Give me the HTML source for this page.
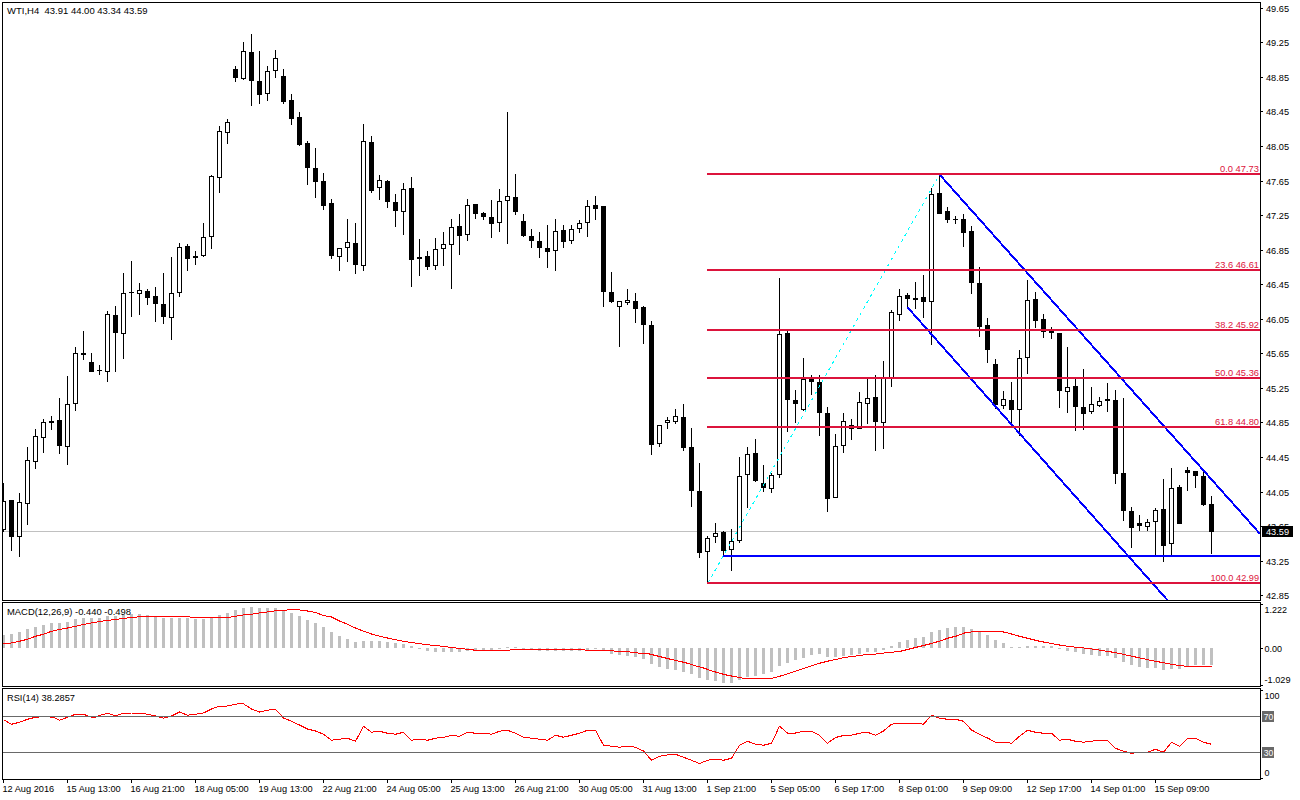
<!DOCTYPE html><html><head><meta charset="utf-8"><title>WTI H4</title><style>html,body{margin:0;padding:0;background:#fff;overflow:hidden}text{font-family:"Liberation Sans",sans-serif}</style></head><body><svg width="1300" height="800" viewBox="0 0 1300 800" style="display:block;font-family:'Liberation Sans',sans-serif">
<rect width="1300" height="800" fill="#fff"/>
<defs><clipPath id="cm"><rect x="3" y="3" width="1257" height="597"/></clipPath><clipPath id="c2"><rect x="3" y="603" width="1257" height="83"/></clipPath><clipPath id="c3"><rect x="3" y="689" width="1257" height="90"/></clipPath></defs>
<rect x="3" y="531" width="1257" height="1" fill="#c0c0c0" shape-rendering="crispEdges"/>
<g clip-path="url(#cm)" shape-rendering="crispEdges">
<rect x="3" y="483" width="1" height="49" fill="#000"/>
<rect x="1" y="501" width="5" height="29" fill="#000"/>
<rect x="2" y="502" width="3" height="27" fill="#fff"/>
<rect x="11" y="500" width="1" height="51" fill="#000"/>
<rect x="9" y="500" width="5" height="37" fill="#000"/>
<rect x="19" y="493" width="1" height="64" fill="#000"/>
<rect x="17" y="502" width="5" height="35" fill="#000"/>
<rect x="18" y="503" width="3" height="33" fill="#fff"/>
<rect x="27" y="447" width="1" height="78" fill="#000"/>
<rect x="25" y="460" width="5" height="44" fill="#000"/>
<rect x="26" y="461" width="3" height="42" fill="#fff"/>
<rect x="35" y="429" width="1" height="40" fill="#000"/>
<rect x="33" y="436" width="5" height="26" fill="#000"/>
<rect x="34" y="437" width="3" height="24" fill="#fff"/>
<rect x="43" y="419" width="1" height="34" fill="#000"/>
<rect x="41" y="422" width="5" height="16" fill="#000"/>
<rect x="42" y="423" width="3" height="14" fill="#fff"/>
<rect x="51" y="416" width="1" height="14" fill="#000"/>
<rect x="49" y="421" width="5" height="2" fill="#000"/>
<rect x="59" y="398" width="1" height="56" fill="#000"/>
<rect x="57" y="420" width="5" height="26" fill="#000"/>
<rect x="67" y="376" width="1" height="89" fill="#000"/>
<rect x="65" y="404" width="5" height="43" fill="#000"/>
<rect x="66" y="405" width="3" height="41" fill="#fff"/>
<rect x="75" y="347" width="1" height="64" fill="#000"/>
<rect x="73" y="353" width="5" height="51" fill="#000"/>
<rect x="74" y="354" width="3" height="49" fill="#fff"/>
<rect x="83" y="331" width="1" height="29" fill="#000"/>
<rect x="81" y="353" width="5" height="2" fill="#000"/>
<rect x="91" y="353" width="1" height="19" fill="#000"/>
<rect x="89" y="362" width="5" height="10" fill="#000"/>
<rect x="99" y="365" width="1" height="10" fill="#000"/>
<rect x="97" y="370" width="5" height="1" fill="#000"/>
<rect x="107" y="311" width="1" height="71" fill="#000"/>
<rect x="105" y="314" width="5" height="58" fill="#000"/>
<rect x="106" y="315" width="3" height="56" fill="#fff"/>
<rect x="115" y="306" width="1" height="66" fill="#000"/>
<rect x="113" y="315" width="5" height="18" fill="#000"/>
<rect x="123" y="273" width="1" height="86" fill="#000"/>
<rect x="121" y="293" width="5" height="41" fill="#000"/>
<rect x="122" y="294" width="3" height="39" fill="#fff"/>
<rect x="131" y="261" width="1" height="56" fill="#000"/>
<rect x="129" y="292" width="5" height="1" fill="#000"/>
<rect x="139" y="283" width="1" height="32" fill="#000"/>
<rect x="137" y="290" width="5" height="4" fill="#000"/>
<rect x="138" y="291" width="3" height="2" fill="#fff"/>
<rect x="147" y="289" width="1" height="16" fill="#000"/>
<rect x="145" y="291" width="5" height="7" fill="#000"/>
<rect x="155" y="287" width="1" height="35" fill="#000"/>
<rect x="153" y="296" width="5" height="8" fill="#000"/>
<rect x="163" y="273" width="1" height="51" fill="#000"/>
<rect x="161" y="304" width="5" height="13" fill="#000"/>
<rect x="171" y="257" width="1" height="83" fill="#000"/>
<rect x="169" y="293" width="5" height="25" fill="#000"/>
<rect x="170" y="294" width="3" height="23" fill="#fff"/>
<rect x="179" y="243" width="1" height="54" fill="#000"/>
<rect x="177" y="247" width="5" height="46" fill="#000"/>
<rect x="178" y="248" width="3" height="44" fill="#fff"/>
<rect x="187" y="244" width="1" height="27" fill="#000"/>
<rect x="185" y="246" width="5" height="13" fill="#000"/>
<rect x="195" y="251" width="1" height="14" fill="#000"/>
<rect x="193" y="256" width="5" height="2" fill="#000"/>
<rect x="203" y="223" width="1" height="34" fill="#000"/>
<rect x="201" y="237" width="5" height="19" fill="#000"/>
<rect x="202" y="238" width="3" height="17" fill="#fff"/>
<rect x="211" y="175" width="1" height="74" fill="#000"/>
<rect x="209" y="176" width="5" height="61" fill="#000"/>
<rect x="210" y="177" width="3" height="59" fill="#fff"/>
<rect x="219" y="126" width="1" height="67" fill="#000"/>
<rect x="217" y="131" width="5" height="47" fill="#000"/>
<rect x="218" y="132" width="3" height="45" fill="#fff"/>
<rect x="227" y="119" width="1" height="25" fill="#000"/>
<rect x="225" y="122" width="5" height="11" fill="#000"/>
<rect x="226" y="123" width="3" height="9" fill="#fff"/>
<rect x="235" y="66" width="1" height="16" fill="#000"/>
<rect x="233" y="69" width="5" height="9" fill="#000"/>
<rect x="243" y="42" width="1" height="38" fill="#000"/>
<rect x="241" y="51" width="5" height="28" fill="#000"/>
<rect x="242" y="52" width="3" height="26" fill="#fff"/>
<rect x="251" y="34" width="1" height="72" fill="#000"/>
<rect x="249" y="52" width="5" height="29" fill="#000"/>
<rect x="259" y="51" width="1" height="53" fill="#000"/>
<rect x="257" y="81" width="5" height="14" fill="#000"/>
<rect x="267" y="66" width="1" height="35" fill="#000"/>
<rect x="265" y="71" width="5" height="23" fill="#000"/>
<rect x="266" y="72" width="3" height="21" fill="#fff"/>
<rect x="275" y="50" width="1" height="28" fill="#000"/>
<rect x="273" y="58" width="5" height="13" fill="#000"/>
<rect x="274" y="59" width="3" height="11" fill="#fff"/>
<rect x="283" y="69" width="1" height="35" fill="#000"/>
<rect x="281" y="76" width="5" height="26" fill="#000"/>
<rect x="291" y="94" width="1" height="31" fill="#000"/>
<rect x="289" y="100" width="5" height="19" fill="#000"/>
<rect x="299" y="112" width="1" height="34" fill="#000"/>
<rect x="297" y="117" width="5" height="28" fill="#000"/>
<rect x="307" y="141" width="1" height="44" fill="#000"/>
<rect x="305" y="143" width="5" height="25" fill="#000"/>
<rect x="315" y="148" width="1" height="50" fill="#000"/>
<rect x="313" y="168" width="5" height="14" fill="#000"/>
<rect x="323" y="173" width="1" height="37" fill="#000"/>
<rect x="321" y="181" width="5" height="25" fill="#000"/>
<rect x="331" y="199" width="1" height="60" fill="#000"/>
<rect x="329" y="203" width="5" height="53" fill="#000"/>
<rect x="339" y="248" width="1" height="23" fill="#000"/>
<rect x="337" y="248" width="5" height="9" fill="#000"/>
<rect x="338" y="249" width="3" height="7" fill="#fff"/>
<rect x="347" y="219" width="1" height="43" fill="#000"/>
<rect x="345" y="242" width="5" height="6" fill="#000"/>
<rect x="346" y="243" width="3" height="4" fill="#fff"/>
<rect x="355" y="223" width="1" height="51" fill="#000"/>
<rect x="353" y="243" width="5" height="22" fill="#000"/>
<rect x="363" y="124" width="1" height="147" fill="#000"/>
<rect x="361" y="141" width="5" height="125" fill="#000"/>
<rect x="362" y="142" width="3" height="123" fill="#fff"/>
<rect x="371" y="136" width="1" height="57" fill="#000"/>
<rect x="369" y="142" width="5" height="49" fill="#000"/>
<rect x="379" y="175" width="1" height="25" fill="#000"/>
<rect x="377" y="180" width="5" height="8" fill="#000"/>
<rect x="378" y="181" width="3" height="6" fill="#fff"/>
<rect x="387" y="180" width="1" height="28" fill="#000"/>
<rect x="385" y="181" width="5" height="21" fill="#000"/>
<rect x="395" y="194" width="1" height="33" fill="#000"/>
<rect x="393" y="202" width="5" height="9" fill="#000"/>
<rect x="403" y="183" width="1" height="52" fill="#000"/>
<rect x="401" y="189" width="5" height="23" fill="#000"/>
<rect x="402" y="190" width="3" height="21" fill="#fff"/>
<rect x="411" y="177" width="1" height="110" fill="#000"/>
<rect x="409" y="188" width="5" height="72" fill="#000"/>
<rect x="419" y="239" width="1" height="37" fill="#000"/>
<rect x="417" y="257" width="5" height="2" fill="#000"/>
<rect x="427" y="251" width="1" height="19" fill="#000"/>
<rect x="425" y="256" width="5" height="11" fill="#000"/>
<rect x="435" y="238" width="1" height="32" fill="#000"/>
<rect x="433" y="249" width="5" height="17" fill="#000"/>
<rect x="434" y="250" width="3" height="15" fill="#fff"/>
<rect x="443" y="232" width="1" height="34" fill="#000"/>
<rect x="441" y="244" width="5" height="5" fill="#000"/>
<rect x="442" y="245" width="3" height="3" fill="#fff"/>
<rect x="451" y="219" width="1" height="70" fill="#000"/>
<rect x="449" y="227" width="5" height="18" fill="#000"/>
<rect x="450" y="228" width="3" height="16" fill="#fff"/>
<rect x="459" y="214" width="1" height="41" fill="#000"/>
<rect x="457" y="226" width="5" height="10" fill="#000"/>
<rect x="467" y="199" width="1" height="42" fill="#000"/>
<rect x="465" y="205" width="5" height="30" fill="#000"/>
<rect x="466" y="206" width="3" height="28" fill="#fff"/>
<rect x="475" y="204" width="1" height="15" fill="#000"/>
<rect x="473" y="204" width="5" height="10" fill="#000"/>
<rect x="483" y="212" width="1" height="8" fill="#000"/>
<rect x="481" y="213" width="5" height="4" fill="#000"/>
<rect x="491" y="200" width="1" height="38" fill="#000"/>
<rect x="489" y="217" width="5" height="7" fill="#000"/>
<rect x="499" y="189" width="1" height="43" fill="#000"/>
<rect x="497" y="201" width="5" height="22" fill="#000"/>
<rect x="498" y="202" width="3" height="20" fill="#fff"/>
<rect x="507" y="112" width="1" height="132" fill="#000"/>
<rect x="505" y="196" width="5" height="5" fill="#000"/>
<rect x="506" y="197" width="3" height="3" fill="#fff"/>
<rect x="515" y="174" width="1" height="41" fill="#000"/>
<rect x="513" y="197" width="5" height="15" fill="#000"/>
<rect x="523" y="214" width="1" height="23" fill="#000"/>
<rect x="521" y="221" width="5" height="15" fill="#000"/>
<rect x="531" y="229" width="1" height="19" fill="#000"/>
<rect x="529" y="236" width="5" height="5" fill="#000"/>
<rect x="539" y="232" width="1" height="26" fill="#000"/>
<rect x="537" y="241" width="5" height="7" fill="#000"/>
<rect x="547" y="225" width="1" height="43" fill="#000"/>
<rect x="545" y="248" width="5" height="4" fill="#000"/>
<rect x="555" y="219" width="1" height="52" fill="#000"/>
<rect x="553" y="231" width="5" height="20" fill="#000"/>
<rect x="554" y="232" width="3" height="18" fill="#fff"/>
<rect x="563" y="225" width="1" height="23" fill="#000"/>
<rect x="561" y="230" width="5" height="12" fill="#000"/>
<rect x="571" y="225" width="1" height="19" fill="#000"/>
<rect x="569" y="229" width="5" height="12" fill="#000"/>
<rect x="570" y="230" width="3" height="10" fill="#fff"/>
<rect x="579" y="220" width="1" height="13" fill="#000"/>
<rect x="577" y="223" width="5" height="6" fill="#000"/>
<rect x="578" y="224" width="3" height="4" fill="#fff"/>
<rect x="587" y="200" width="1" height="37" fill="#000"/>
<rect x="585" y="206" width="5" height="17" fill="#000"/>
<rect x="586" y="207" width="3" height="15" fill="#fff"/>
<rect x="595" y="196" width="1" height="24" fill="#000"/>
<rect x="593" y="205" width="5" height="4" fill="#000"/>
<rect x="603" y="206" width="1" height="101" fill="#000"/>
<rect x="601" y="206" width="5" height="86" fill="#000"/>
<rect x="611" y="272" width="1" height="31" fill="#000"/>
<rect x="609" y="292" width="5" height="10" fill="#000"/>
<rect x="619" y="301" width="1" height="46" fill="#000"/>
<rect x="617" y="301" width="5" height="6" fill="#000"/>
<rect x="618" y="302" width="3" height="4" fill="#fff"/>
<rect x="627" y="289" width="1" height="16" fill="#000"/>
<rect x="625" y="300" width="5" height="3" fill="#000"/>
<rect x="626" y="301" width="3" height="1" fill="#fff"/>
<rect x="635" y="293" width="1" height="30" fill="#000"/>
<rect x="633" y="301" width="5" height="8" fill="#000"/>
<rect x="643" y="306" width="1" height="38" fill="#000"/>
<rect x="641" y="307" width="5" height="18" fill="#000"/>
<rect x="651" y="321" width="1" height="134" fill="#000"/>
<rect x="649" y="325" width="5" height="120" fill="#000"/>
<rect x="659" y="425" width="1" height="22" fill="#000"/>
<rect x="657" y="425" width="5" height="19" fill="#000"/>
<rect x="658" y="426" width="3" height="17" fill="#fff"/>
<rect x="667" y="417" width="1" height="12" fill="#000"/>
<rect x="665" y="420" width="5" height="3" fill="#000"/>
<rect x="666" y="421" width="3" height="1" fill="#fff"/>
<rect x="675" y="409" width="1" height="15" fill="#000"/>
<rect x="673" y="416" width="5" height="6" fill="#000"/>
<rect x="674" y="417" width="3" height="4" fill="#fff"/>
<rect x="683" y="404" width="1" height="47" fill="#000"/>
<rect x="681" y="417" width="5" height="31" fill="#000"/>
<rect x="691" y="428" width="1" height="79" fill="#000"/>
<rect x="689" y="447" width="5" height="44" fill="#000"/>
<rect x="699" y="463" width="1" height="95" fill="#000"/>
<rect x="697" y="491" width="5" height="62" fill="#000"/>
<rect x="707" y="536" width="1" height="47" fill="#000"/>
<rect x="705" y="538" width="5" height="14" fill="#000"/>
<rect x="706" y="539" width="3" height="12" fill="#fff"/>
<rect x="715" y="523" width="1" height="20" fill="#000"/>
<rect x="713" y="533" width="5" height="4" fill="#000"/>
<rect x="714" y="534" width="3" height="2" fill="#fff"/>
<rect x="723" y="531" width="1" height="25" fill="#000"/>
<rect x="721" y="532" width="5" height="19" fill="#000"/>
<rect x="731" y="529" width="1" height="42" fill="#000"/>
<rect x="729" y="541" width="5" height="9" fill="#000"/>
<rect x="730" y="542" width="3" height="7" fill="#fff"/>
<rect x="739" y="457" width="1" height="86" fill="#000"/>
<rect x="737" y="476" width="5" height="65" fill="#000"/>
<rect x="738" y="477" width="3" height="63" fill="#fff"/>
<rect x="747" y="447" width="1" height="61" fill="#000"/>
<rect x="745" y="454" width="5" height="21" fill="#000"/>
<rect x="746" y="455" width="3" height="19" fill="#fff"/>
<rect x="755" y="439" width="1" height="43" fill="#000"/>
<rect x="753" y="453" width="5" height="28" fill="#000"/>
<rect x="763" y="465" width="1" height="27" fill="#000"/>
<rect x="761" y="483" width="5" height="5" fill="#000"/>
<rect x="771" y="473" width="1" height="20" fill="#000"/>
<rect x="769" y="475" width="5" height="14" fill="#000"/>
<rect x="770" y="476" width="3" height="12" fill="#fff"/>
<rect x="779" y="278" width="1" height="200" fill="#000"/>
<rect x="777" y="334" width="5" height="141" fill="#000"/>
<rect x="778" y="335" width="3" height="139" fill="#fff"/>
<rect x="787" y="330" width="1" height="102" fill="#000"/>
<rect x="785" y="333" width="5" height="67" fill="#000"/>
<rect x="795" y="390" width="1" height="33" fill="#000"/>
<rect x="793" y="400" width="5" height="4" fill="#000"/>
<rect x="803" y="358" width="1" height="53" fill="#000"/>
<rect x="801" y="379" width="5" height="31" fill="#000"/>
<rect x="802" y="380" width="3" height="29" fill="#fff"/>
<rect x="811" y="375" width="1" height="20" fill="#000"/>
<rect x="809" y="379" width="5" height="3" fill="#000"/>
<rect x="819" y="375" width="1" height="61" fill="#000"/>
<rect x="817" y="382" width="5" height="31" fill="#000"/>
<rect x="827" y="407" width="1" height="105" fill="#000"/>
<rect x="825" y="413" width="5" height="86" fill="#000"/>
<rect x="835" y="434" width="1" height="64" fill="#000"/>
<rect x="833" y="446" width="5" height="52" fill="#000"/>
<rect x="834" y="447" width="3" height="50" fill="#fff"/>
<rect x="843" y="413" width="1" height="40" fill="#000"/>
<rect x="841" y="421" width="5" height="25" fill="#000"/>
<rect x="842" y="422" width="3" height="23" fill="#fff"/>
<rect x="851" y="419" width="1" height="21" fill="#000"/>
<rect x="849" y="425" width="5" height="4" fill="#000"/>
<rect x="859" y="392" width="1" height="37" fill="#000"/>
<rect x="857" y="402" width="5" height="27" fill="#000"/>
<rect x="858" y="403" width="3" height="25" fill="#fff"/>
<rect x="867" y="379" width="1" height="45" fill="#000"/>
<rect x="865" y="398" width="5" height="6" fill="#000"/>
<rect x="866" y="399" width="3" height="4" fill="#fff"/>
<rect x="875" y="375" width="1" height="76" fill="#000"/>
<rect x="873" y="397" width="5" height="25" fill="#000"/>
<rect x="883" y="361" width="1" height="88" fill="#000"/>
<rect x="881" y="378" width="5" height="45" fill="#000"/>
<rect x="882" y="379" width="3" height="43" fill="#fff"/>
<rect x="891" y="310" width="1" height="77" fill="#000"/>
<rect x="889" y="312" width="5" height="66" fill="#000"/>
<rect x="890" y="313" width="3" height="64" fill="#fff"/>
<rect x="899" y="289" width="1" height="32" fill="#000"/>
<rect x="897" y="296" width="5" height="19" fill="#000"/>
<rect x="898" y="297" width="3" height="17" fill="#fff"/>
<rect x="907" y="293" width="1" height="14" fill="#000"/>
<rect x="905" y="295" width="5" height="4" fill="#000"/>
<rect x="915" y="282" width="1" height="27" fill="#000"/>
<rect x="913" y="298" width="5" height="2" fill="#000"/>
<rect x="923" y="275" width="1" height="43" fill="#000"/>
<rect x="921" y="297" width="5" height="5" fill="#000"/>
<rect x="931" y="188" width="1" height="157" fill="#000"/>
<rect x="929" y="194" width="5" height="108" fill="#000"/>
<rect x="930" y="195" width="3" height="106" fill="#fff"/>
<rect x="939" y="174" width="1" height="40" fill="#000"/>
<rect x="937" y="193" width="5" height="21" fill="#000"/>
<rect x="947" y="207" width="1" height="16" fill="#000"/>
<rect x="945" y="211" width="5" height="9" fill="#000"/>
<rect x="955" y="216" width="1" height="8" fill="#000"/>
<rect x="953" y="219" width="5" height="1" fill="#000"/>
<rect x="963" y="214" width="1" height="33" fill="#000"/>
<rect x="961" y="219" width="5" height="14" fill="#000"/>
<rect x="971" y="226" width="1" height="68" fill="#000"/>
<rect x="969" y="231" width="5" height="52" fill="#000"/>
<rect x="979" y="267" width="1" height="70" fill="#000"/>
<rect x="977" y="283" width="5" height="44" fill="#000"/>
<rect x="987" y="318" width="1" height="45" fill="#000"/>
<rect x="985" y="325" width="5" height="25" fill="#000"/>
<rect x="995" y="359" width="1" height="50" fill="#000"/>
<rect x="993" y="364" width="5" height="41" fill="#000"/>
<rect x="1003" y="391" width="1" height="18" fill="#000"/>
<rect x="1001" y="399" width="5" height="7" fill="#000"/>
<rect x="1002" y="400" width="3" height="5" fill="#fff"/>
<rect x="1011" y="382" width="1" height="41" fill="#000"/>
<rect x="1009" y="400" width="5" height="10" fill="#000"/>
<rect x="1019" y="350" width="1" height="86" fill="#000"/>
<rect x="1017" y="358" width="5" height="52" fill="#000"/>
<rect x="1018" y="359" width="3" height="50" fill="#fff"/>
<rect x="1027" y="280" width="1" height="94" fill="#000"/>
<rect x="1025" y="300" width="5" height="58" fill="#000"/>
<rect x="1026" y="301" width="3" height="56" fill="#fff"/>
<rect x="1035" y="292" width="1" height="36" fill="#000"/>
<rect x="1033" y="299" width="5" height="22" fill="#000"/>
<rect x="1043" y="314" width="1" height="24" fill="#000"/>
<rect x="1041" y="319" width="5" height="13" fill="#000"/>
<rect x="1051" y="327" width="1" height="12" fill="#000"/>
<rect x="1049" y="331" width="5" height="2" fill="#000"/>
<rect x="1059" y="333" width="1" height="75" fill="#000"/>
<rect x="1057" y="333" width="5" height="58" fill="#000"/>
<rect x="1067" y="347" width="1" height="66" fill="#000"/>
<rect x="1065" y="387" width="5" height="5" fill="#000"/>
<rect x="1066" y="388" width="3" height="3" fill="#fff"/>
<rect x="1075" y="379" width="1" height="52" fill="#000"/>
<rect x="1073" y="386" width="5" height="21" fill="#000"/>
<rect x="1083" y="369" width="1" height="61" fill="#000"/>
<rect x="1081" y="407" width="5" height="7" fill="#000"/>
<rect x="1091" y="387" width="1" height="27" fill="#000"/>
<rect x="1089" y="404" width="5" height="8" fill="#000"/>
<rect x="1090" y="405" width="3" height="6" fill="#fff"/>
<rect x="1099" y="397" width="1" height="10" fill="#000"/>
<rect x="1097" y="401" width="5" height="5" fill="#000"/>
<rect x="1098" y="402" width="3" height="3" fill="#fff"/>
<rect x="1107" y="383" width="1" height="29" fill="#000"/>
<rect x="1105" y="399" width="5" height="2" fill="#000"/>
<rect x="1115" y="390" width="1" height="94" fill="#000"/>
<rect x="1113" y="400" width="5" height="74" fill="#000"/>
<rect x="1123" y="398" width="1" height="123" fill="#000"/>
<rect x="1121" y="473" width="5" height="38" fill="#000"/>
<rect x="1131" y="507" width="1" height="41" fill="#000"/>
<rect x="1129" y="511" width="5" height="17" fill="#000"/>
<rect x="1139" y="515" width="1" height="16" fill="#000"/>
<rect x="1137" y="523" width="5" height="3" fill="#000"/>
<rect x="1147" y="519" width="1" height="12" fill="#000"/>
<rect x="1145" y="522" width="5" height="5" fill="#000"/>
<rect x="1146" y="523" width="3" height="3" fill="#fff"/>
<rect x="1155" y="508" width="1" height="47" fill="#000"/>
<rect x="1153" y="510" width="5" height="12" fill="#000"/>
<rect x="1154" y="511" width="3" height="10" fill="#fff"/>
<rect x="1163" y="479" width="1" height="83" fill="#000"/>
<rect x="1161" y="509" width="5" height="37" fill="#000"/>
<rect x="1171" y="468" width="1" height="87" fill="#000"/>
<rect x="1169" y="488" width="5" height="56" fill="#000"/>
<rect x="1170" y="489" width="3" height="54" fill="#fff"/>
<rect x="1179" y="485" width="1" height="39" fill="#000"/>
<rect x="1177" y="487" width="5" height="37" fill="#000"/>
<rect x="1187" y="467" width="1" height="24" fill="#000"/>
<rect x="1185" y="470" width="5" height="3" fill="#000"/>
<rect x="1195" y="471" width="1" height="17" fill="#000"/>
<rect x="1193" y="471" width="5" height="5" fill="#000"/>
<rect x="1203" y="471" width="1" height="35" fill="#000"/>
<rect x="1201" y="476" width="5" height="29" fill="#000"/>
<rect x="1211" y="496" width="1" height="58" fill="#000"/>
<rect x="1209" y="504" width="5" height="28" fill="#000"/>
</g>
<g clip-path="url(#cm)">
<line x1="707.9" y1="583" x2="939.3" y2="175" stroke="#00ffff" stroke-width="1" stroke-dasharray="3 4" shape-rendering="crispEdges"/>
<rect x="723" y="555" width="537" height="2" fill="#0000ff" shape-rendering="crispEdges"/>
<line x1="939.5" y1="174.5" x2="1260" y2="533.8" stroke="#0000ff" stroke-width="2" shape-rendering="crispEdges"/>
<line x1="907.5" y1="307.3" x2="1185.1" y2="620" stroke="#0000ff" stroke-width="2" shape-rendering="crispEdges"/>
<rect x="707" y="173" width="553" height="2" fill="#dc143c" shape-rendering="crispEdges"/>
<rect x="707" y="269" width="553" height="2" fill="#dc143c" shape-rendering="crispEdges"/>
<rect x="707" y="329" width="553" height="2" fill="#dc143c" shape-rendering="crispEdges"/>
<rect x="707" y="377" width="553" height="2" fill="#dc143c" shape-rendering="crispEdges"/>
<rect x="707" y="426" width="553" height="2" fill="#dc143c" shape-rendering="crispEdges"/>
<rect x="707" y="582" width="553" height="2" fill="#dc143c" shape-rendering="crispEdges"/>
</g>
<text x="1259" y="172.3" font-size="9.6" fill="#dc143c" textLength="39" lengthAdjust="spacingAndGlyphs" text-anchor="end" xml:space="preserve">0.0 47.73</text>
<text x="1259" y="268.3" font-size="9.6" fill="#dc143c" textLength="44" lengthAdjust="spacingAndGlyphs" text-anchor="end" xml:space="preserve">23.6 46.61</text>
<text x="1259" y="328.3" font-size="9.6" fill="#dc143c" textLength="44" lengthAdjust="spacingAndGlyphs" text-anchor="end" xml:space="preserve">38.2 45.92</text>
<text x="1259" y="376.3" font-size="9.6" fill="#dc143c" textLength="44" lengthAdjust="spacingAndGlyphs" text-anchor="end" xml:space="preserve">50.0 45.36</text>
<text x="1259" y="425.3" font-size="9.6" fill="#dc143c" textLength="44" lengthAdjust="spacingAndGlyphs" text-anchor="end" xml:space="preserve">61.8 44.80</text>
<text x="1259" y="581.3" font-size="9.6" fill="#dc143c" textLength="48.5" lengthAdjust="spacingAndGlyphs" text-anchor="end" xml:space="preserve">100.0 42.99</text>
<g clip-path="url(#c2)" shape-rendering="crispEdges">
<rect x="2" y="635" width="3" height="13" fill="#c0c0c0"/>
<rect x="10" y="634" width="3" height="14" fill="#c0c0c0"/>
<rect x="18" y="632" width="3" height="16" fill="#c0c0c0"/>
<rect x="26" y="629" width="3" height="19" fill="#c0c0c0"/>
<rect x="34" y="627" width="3" height="21" fill="#c0c0c0"/>
<rect x="42" y="625" width="3" height="23" fill="#c0c0c0"/>
<rect x="50" y="623" width="3" height="25" fill="#c0c0c0"/>
<rect x="58" y="623" width="3" height="25" fill="#c0c0c0"/>
<rect x="66" y="622" width="3" height="26" fill="#c0c0c0"/>
<rect x="74" y="619" width="3" height="29" fill="#c0c0c0"/>
<rect x="82" y="618" width="3" height="30" fill="#c0c0c0"/>
<rect x="90" y="618" width="3" height="30" fill="#c0c0c0"/>
<rect x="98" y="618" width="3" height="30" fill="#c0c0c0"/>
<rect x="106" y="616" width="3" height="32" fill="#c0c0c0"/>
<rect x="114" y="616" width="3" height="32" fill="#c0c0c0"/>
<rect x="122" y="615" width="3" height="33" fill="#c0c0c0"/>
<rect x="130" y="614" width="3" height="34" fill="#c0c0c0"/>
<rect x="138" y="614" width="3" height="34" fill="#c0c0c0"/>
<rect x="146" y="615" width="3" height="33" fill="#c0c0c0"/>
<rect x="154" y="616" width="3" height="32" fill="#c0c0c0"/>
<rect x="162" y="618" width="3" height="30" fill="#c0c0c0"/>
<rect x="170" y="618" width="3" height="30" fill="#c0c0c0"/>
<rect x="178" y="618" width="3" height="30" fill="#c0c0c0"/>
<rect x="186" y="618" width="3" height="30" fill="#c0c0c0"/>
<rect x="194" y="619" width="3" height="29" fill="#c0c0c0"/>
<rect x="202" y="619" width="3" height="29" fill="#c0c0c0"/>
<rect x="210" y="617" width="3" height="31" fill="#c0c0c0"/>
<rect x="218" y="615" width="3" height="33" fill="#c0c0c0"/>
<rect x="226" y="613" width="3" height="35" fill="#c0c0c0"/>
<rect x="234" y="610" width="3" height="38" fill="#c0c0c0"/>
<rect x="242" y="608" width="3" height="40" fill="#c0c0c0"/>
<rect x="250" y="607" width="3" height="41" fill="#c0c0c0"/>
<rect x="258" y="608" width="3" height="40" fill="#c0c0c0"/>
<rect x="266" y="608" width="3" height="40" fill="#c0c0c0"/>
<rect x="274" y="608" width="3" height="40" fill="#c0c0c0"/>
<rect x="282" y="610" width="3" height="38" fill="#c0c0c0"/>
<rect x="290" y="613" width="3" height="35" fill="#c0c0c0"/>
<rect x="298" y="616" width="3" height="32" fill="#c0c0c0"/>
<rect x="306" y="620" width="3" height="28" fill="#c0c0c0"/>
<rect x="314" y="623" width="3" height="25" fill="#c0c0c0"/>
<rect x="322" y="627" width="3" height="21" fill="#c0c0c0"/>
<rect x="330" y="632" width="3" height="16" fill="#c0c0c0"/>
<rect x="338" y="636" width="3" height="12" fill="#c0c0c0"/>
<rect x="346" y="639" width="3" height="9" fill="#c0c0c0"/>
<rect x="354" y="642" width="3" height="6" fill="#c0c0c0"/>
<rect x="362" y="641" width="3" height="7" fill="#c0c0c0"/>
<rect x="370" y="641" width="3" height="7" fill="#c0c0c0"/>
<rect x="378" y="641" width="3" height="7" fill="#c0c0c0"/>
<rect x="386" y="642" width="3" height="6" fill="#c0c0c0"/>
<rect x="394" y="643" width="3" height="5" fill="#c0c0c0"/>
<rect x="402" y="644" width="3" height="4" fill="#c0c0c0"/>
<rect x="410" y="646" width="3" height="2" fill="#c0c0c0"/>
<rect x="418" y="648" width="3" height="1" fill="#c0c0c0"/>
<rect x="426" y="648" width="3" height="3" fill="#c0c0c0"/>
<rect x="434" y="648" width="3" height="4" fill="#c0c0c0"/>
<rect x="442" y="648" width="3" height="4" fill="#c0c0c0"/>
<rect x="450" y="648" width="3" height="4" fill="#c0c0c0"/>
<rect x="458" y="648" width="3" height="4" fill="#c0c0c0"/>
<rect x="466" y="648" width="3" height="3" fill="#c0c0c0"/>
<rect x="474" y="648" width="3" height="2" fill="#c0c0c0"/>
<rect x="482" y="648" width="3" height="2" fill="#c0c0c0"/>
<rect x="490" y="648" width="3" height="2" fill="#c0c0c0"/>
<rect x="498" y="648" width="3" height="1" fill="#c0c0c0"/>
<rect x="506" y="647" width="3" height="1" fill="#c0c0c0"/>
<rect x="514" y="647" width="3" height="1" fill="#c0c0c0"/>
<rect x="522" y="648" width="3" height="2" fill="#c0c0c0"/>
<rect x="530" y="648" width="3" height="2" fill="#c0c0c0"/>
<rect x="538" y="648" width="3" height="3" fill="#c0c0c0"/>
<rect x="546" y="648" width="3" height="3" fill="#c0c0c0"/>
<rect x="554" y="648" width="3" height="3" fill="#c0c0c0"/>
<rect x="562" y="648" width="3" height="3" fill="#c0c0c0"/>
<rect x="570" y="648" width="3" height="3" fill="#c0c0c0"/>
<rect x="578" y="648" width="3" height="3" fill="#c0c0c0"/>
<rect x="586" y="648" width="3" height="2" fill="#c0c0c0"/>
<rect x="594" y="648" width="3" height="1" fill="#c0c0c0"/>
<rect x="602" y="648" width="3" height="2" fill="#c0c0c0"/>
<rect x="610" y="648" width="3" height="6" fill="#c0c0c0"/>
<rect x="618" y="648" width="3" height="7" fill="#c0c0c0"/>
<rect x="626" y="648" width="3" height="8" fill="#c0c0c0"/>
<rect x="634" y="648" width="3" height="9" fill="#c0c0c0"/>
<rect x="642" y="648" width="3" height="11" fill="#c0c0c0"/>
<rect x="650" y="648" width="3" height="16" fill="#c0c0c0"/>
<rect x="658" y="648" width="3" height="19" fill="#c0c0c0"/>
<rect x="666" y="648" width="3" height="21" fill="#c0c0c0"/>
<rect x="674" y="648" width="3" height="22" fill="#c0c0c0"/>
<rect x="682" y="648" width="3" height="24" fill="#c0c0c0"/>
<rect x="690" y="648" width="3" height="26" fill="#c0c0c0"/>
<rect x="698" y="648" width="3" height="30" fill="#c0c0c0"/>
<rect x="706" y="648" width="3" height="32" fill="#c0c0c0"/>
<rect x="714" y="648" width="3" height="33" fill="#c0c0c0"/>
<rect x="722" y="648" width="3" height="35" fill="#c0c0c0"/>
<rect x="730" y="648" width="3" height="35" fill="#c0c0c0"/>
<rect x="738" y="648" width="3" height="32" fill="#c0c0c0"/>
<rect x="746" y="648" width="3" height="29" fill="#c0c0c0"/>
<rect x="754" y="648" width="3" height="28" fill="#c0c0c0"/>
<rect x="762" y="648" width="3" height="26" fill="#c0c0c0"/>
<rect x="770" y="648" width="3" height="24" fill="#c0c0c0"/>
<rect x="778" y="648" width="3" height="18" fill="#c0c0c0"/>
<rect x="786" y="648" width="3" height="15" fill="#c0c0c0"/>
<rect x="794" y="648" width="3" height="12" fill="#c0c0c0"/>
<rect x="802" y="648" width="3" height="10" fill="#c0c0c0"/>
<rect x="810" y="648" width="3" height="7" fill="#c0c0c0"/>
<rect x="818" y="648" width="3" height="6" fill="#c0c0c0"/>
<rect x="826" y="648" width="3" height="9" fill="#c0c0c0"/>
<rect x="834" y="648" width="3" height="9" fill="#c0c0c0"/>
<rect x="842" y="648" width="3" height="8" fill="#c0c0c0"/>
<rect x="850" y="648" width="3" height="7" fill="#c0c0c0"/>
<rect x="858" y="648" width="3" height="6" fill="#c0c0c0"/>
<rect x="866" y="648" width="3" height="4" fill="#c0c0c0"/>
<rect x="874" y="648" width="3" height="4" fill="#c0c0c0"/>
<rect x="882" y="648" width="3" height="2" fill="#c0c0c0"/>
<rect x="890" y="646" width="3" height="2" fill="#c0c0c0"/>
<rect x="898" y="642" width="3" height="6" fill="#c0c0c0"/>
<rect x="906" y="640" width="3" height="8" fill="#c0c0c0"/>
<rect x="914" y="638" width="3" height="10" fill="#c0c0c0"/>
<rect x="922" y="637" width="3" height="11" fill="#c0c0c0"/>
<rect x="930" y="632" width="3" height="16" fill="#c0c0c0"/>
<rect x="938" y="630" width="3" height="18" fill="#c0c0c0"/>
<rect x="946" y="628" width="3" height="20" fill="#c0c0c0"/>
<rect x="954" y="627" width="3" height="21" fill="#c0c0c0"/>
<rect x="962" y="627" width="3" height="21" fill="#c0c0c0"/>
<rect x="970" y="629" width="3" height="19" fill="#c0c0c0"/>
<rect x="978" y="631" width="3" height="17" fill="#c0c0c0"/>
<rect x="986" y="635" width="3" height="13" fill="#c0c0c0"/>
<rect x="994" y="640" width="3" height="8" fill="#c0c0c0"/>
<rect x="1002" y="643" width="3" height="5" fill="#c0c0c0"/>
<rect x="1010" y="647" width="3" height="1" fill="#c0c0c0"/>
<rect x="1018" y="647" width="3" height="1" fill="#c0c0c0"/>
<rect x="1026" y="646" width="3" height="2" fill="#c0c0c0"/>
<rect x="1034" y="646" width="3" height="2" fill="#c0c0c0"/>
<rect x="1042" y="646" width="3" height="2" fill="#c0c0c0"/>
<rect x="1050" y="646" width="3" height="2" fill="#c0c0c0"/>
<rect x="1058" y="648" width="3" height="1" fill="#c0c0c0"/>
<rect x="1066" y="648" width="3" height="3" fill="#c0c0c0"/>
<rect x="1074" y="648" width="3" height="4" fill="#c0c0c0"/>
<rect x="1082" y="648" width="3" height="6" fill="#c0c0c0"/>
<rect x="1090" y="648" width="3" height="7" fill="#c0c0c0"/>
<rect x="1098" y="648" width="3" height="8" fill="#c0c0c0"/>
<rect x="1106" y="648" width="3" height="8" fill="#c0c0c0"/>
<rect x="1114" y="648" width="3" height="10" fill="#c0c0c0"/>
<rect x="1122" y="648" width="3" height="14" fill="#c0c0c0"/>
<rect x="1130" y="648" width="3" height="17" fill="#c0c0c0"/>
<rect x="1138" y="648" width="3" height="19" fill="#c0c0c0"/>
<rect x="1146" y="648" width="3" height="20" fill="#c0c0c0"/>
<rect x="1154" y="648" width="3" height="20" fill="#c0c0c0"/>
<rect x="1162" y="648" width="3" height="22" fill="#c0c0c0"/>
<rect x="1170" y="648" width="3" height="21" fill="#c0c0c0"/>
<rect x="1178" y="648" width="3" height="21" fill="#c0c0c0"/>
<rect x="1186" y="648" width="3" height="18" fill="#c0c0c0"/>
<rect x="1194" y="648" width="3" height="17" fill="#c0c0c0"/>
<rect x="1202" y="648" width="3" height="17" fill="#c0c0c0"/>
<rect x="1210" y="648" width="3" height="17" fill="#c0c0c0"/>
</g>
<polyline points="3.5,644 11.5,643 19.5,641.25 27.5,639.25 35.5,636.25 43.5,634.25 51.5,631.25 59.5,629.5 67.5,628 75.5,626.25 83.5,624.5 91.5,623 99.5,621.5 107.5,620.5 115.5,619.5 123.5,618.5 131.5,617.5 139.5,616.75 147.5,616.5 155.5,616.5 163.5,616.5 171.5,616.5 179.5,616.5 187.5,616.75 195.5,617.5 203.5,617.5 211.5,617.5 219.5,617.5 227.5,617.5 235.5,616.25 243.5,615 251.5,614.25 259.5,613 267.5,612 275.5,610.75 283.5,610.5 291.5,609.5 299.5,610 307.5,611 315.5,612.5 323.5,615.5 331.5,617 339.5,621 347.5,624.25 355.5,628 363.5,631.25 371.5,634 379.5,636.25 387.5,638 395.5,639.75 403.5,641.25 411.5,642.5 419.5,643.75 427.5,644.75 435.5,645.5 443.5,646.5 451.5,647.5 459.5,648.5 467.5,649.25 475.5,650.25 483.5,650.25 491.5,650.25 499.5,650.25 507.5,650.25 515.5,649.5 523.5,649.5 531.5,649.5 539.5,649.5 547.5,649.5 555.5,649.5 563.5,649.5 571.5,649.5 579.5,649.5 587.5,650.25 595.5,650.25 603.5,650.25 611.5,650.75 619.5,651.5 627.5,651.75 635.5,652.75 643.5,653.5 647.5,653.5 655.5,655.5 663.5,657.5 671.5,659.5 679.5,661.25 687.5,663.25 695.5,665.75 703.5,668 711.5,670.75 719.5,673.25 727.5,675.25 735.5,676.75 743.5,678.25 751.5,678.5 759.5,678.5 767.5,678.5 772.5,678.25 780.5,676 788.5,673.5 796.5,670.75 804.5,668.25 812.5,665.5 820.5,663 828.5,661 836.5,659.25 844.5,657.5 852.5,656.5 860.5,655.25 868.5,654.5 876.5,654 884.5,653 892.5,652.25 900.5,651.25 908.5,649.25 916.5,647.25 924.5,645.25 932.5,643.25 940.5,640.75 948.5,638 956.5,636 964.5,633 967.5,632.5 975.5,631.5 983.5,631.25 991.5,631.25 999.5,631.25 1007.5,632.75 1015.5,635.25 1023.5,637.25 1031.5,639.25 1039.5,641.25 1047.5,642.75 1055.5,644.25 1063.5,645.75 1071.5,646.75 1079.5,647.5 1087.5,648.5 1095.5,649.5 1103.5,650.75 1111.5,652 1119.5,653.5 1127.5,655.25 1135.5,657 1143.5,658.75 1151.5,660.5 1159.5,662 1167.5,663.5 1175.5,665 1183.5,666 1191.5,666.25 1199.5,666.25 1211.5,666.25" fill="none" stroke="#ff0000" stroke-width="1" shape-rendering="crispEdges" clip-path="url(#c2)"/>
<polyline points="3.5,719.75 11.5,724.25 19.5,722.25 27.5,719.25 35.5,717.25 39.5,717 45.5,716.75 53.5,717.25 59.5,720.25 67.5,717.25 75.5,714.25 83.5,714.25 91.5,717.25 95,717.25 99.5,715.5 107.5,713.25 115.5,716 123.5,713.25 131.5,713 139.5,713 147.5,714.25 155.5,716 163.5,718.25 171.5,716 179.5,712 187.5,715.25 195.5,714.25 203.5,713 211.5,709 219.5,706.25 227.5,706 235.5,704.25 242.5,703.25 251.5,709 259.5,712 267.5,710.25 275.5,709.25 283.5,718 291.5,721.25 299.5,725 307.5,729 315.5,731 323.5,734.25 331.5,740.25 339.5,739.25 347.5,738.25 355.5,741.25 363.5,726.25 371.5,732.25 379.5,731.25 387.5,733.25 395.5,734.25 403.5,732.25 411.5,740.25 419.5,739.25 427.5,740.25 435.5,738.25 443.5,737.25 451.5,735.5 459.5,736.25 467.5,732.25 475.5,733.25 483.5,733.25 491.5,734.25 499.5,731.25 507.5,730.25 515.5,733.25 523.5,737.25 531.5,738.25 539.5,739.25 547.5,740.25 555.5,735.25 563.5,737.25 571.5,735.25 579.5,733.25 587.5,730.25 595.5,730.25 603.5,745.25 611.5,746.25 619.5,747.25 627.5,746.25 635.5,747.25 643.5,751 651.5,760.25 659.5,756.25 667.5,755 675.5,754.25 683.5,757.25 691.5,760.25 699.5,763.5 707.5,760.25 715.5,759.25 723.5,760.25 731.5,758.25 739.5,745.25 747.5,741.25 755.5,744.25 763.5,745.25 771.5,743.25 779.5,726.25 787.5,733 795.5,733 803.5,731.25 811.5,731.25 819.5,735.25 827.5,743.25 835.5,737.5 843.5,735.5 851.5,735.25 859.5,733.25 867.5,732.25 875.5,735.25 883.5,731 891.5,724.25 899.5,723.25 907.5,723.25 915.5,723.25 923.5,724.25 931.5,715.25 939.5,718.25 947.5,719.25 955.5,719.25 963.5,721.25 971.5,730 979.5,734.25 987.5,738 995.5,742.25 1003.5,742.25 1011.5,743.25 1019.5,736.25 1027.5,730.25 1035.5,732.25 1043.5,733.25 1051.5,733.25 1059.5,740.25 1067.5,739.25 1075.5,741.25 1083.5,742.25 1091.5,741.25 1099.5,740.25 1107.5,740.25 1115.5,748.25 1123.5,751.25 1131.5,753.25 1139.5,752.5 1147.5,752.25 1155.5,749.25 1163.5,752.25 1171.5,742.25 1179.5,746.25 1187.5,738.25 1195.5,738.25 1203.5,742.25 1211.5,744.25" fill="none" stroke="#ff0000" stroke-width="1" shape-rendering="crispEdges" clip-path="url(#c3)"/>
<g shape-rendering="crispEdges">
<rect x="3" y="716" width="1257" height="1" fill="#696969"/>
<rect x="3" y="752" width="1257" height="1" fill="#696969"/>
</g>
<g fill="#000" shape-rendering="crispEdges">
<rect x="2" y="2" width="1259" height="1"/>
<rect x="2" y="2" width="1" height="599"/>
<rect x="2" y="600" width="1259" height="1"/>
<rect x="2" y="602" width="1259" height="1"/>
<rect x="2" y="602" width="1" height="85"/>
<rect x="2" y="686" width="1259" height="1"/>
<rect x="2" y="688" width="1259" height="1"/>
<rect x="2" y="688" width="1" height="92"/>
<rect x="2" y="779" width="1259" height="1"/>
<rect x="1260" y="2" width="1" height="599"/>
<rect x="1260" y="602" width="1" height="85"/>
<rect x="1260" y="688" width="1" height="92"/>
<rect x="1261" y="8" width="2" height="1"/>
<rect x="1261" y="42" width="2" height="1"/>
<rect x="1261" y="77" width="2" height="1"/>
<rect x="1261" y="111" width="2" height="1"/>
<rect x="1261" y="146" width="2" height="1"/>
<rect x="1261" y="181" width="2" height="1"/>
<rect x="1261" y="215" width="2" height="1"/>
<rect x="1261" y="250" width="2" height="1"/>
<rect x="1261" y="284" width="2" height="1"/>
<rect x="1261" y="319" width="2" height="1"/>
<rect x="1261" y="353" width="2" height="1"/>
<rect x="1261" y="388" width="2" height="1"/>
<rect x="1261" y="422" width="2" height="1"/>
<rect x="1261" y="457" width="2" height="1"/>
<rect x="1261" y="492" width="2" height="1"/>
<rect x="1261" y="526" width="2" height="1"/>
<rect x="1261" y="561" width="2" height="1"/>
<rect x="1261" y="595" width="2" height="1"/>
<rect x="1261" y="604" width="2" height="1"/>
<rect x="1261" y="648" width="2" height="1"/>
<rect x="1261" y="685" width="2" height="1"/>
<rect x="1261" y="690" width="2" height="1"/>
<rect x="1261" y="778" width="2" height="1"/>
<rect x="3" y="780" width="1" height="3"/>
<rect x="67" y="780" width="1" height="3"/>
<rect x="131" y="780" width="1" height="3"/>
<rect x="195" y="780" width="1" height="3"/>
<rect x="259" y="780" width="1" height="3"/>
<rect x="323" y="780" width="1" height="3"/>
<rect x="387" y="780" width="1" height="3"/>
<rect x="451" y="780" width="1" height="3"/>
<rect x="515" y="780" width="1" height="3"/>
<rect x="579" y="780" width="1" height="3"/>
<rect x="643" y="780" width="1" height="3"/>
<rect x="707" y="780" width="1" height="3"/>
<rect x="771" y="780" width="1" height="3"/>
<rect x="835" y="780" width="1" height="3"/>
<rect x="899" y="780" width="1" height="3"/>
<rect x="963" y="780" width="1" height="3"/>
<rect x="1027" y="780" width="1" height="3"/>
<rect x="1091" y="780" width="1" height="3"/>
<rect x="1155" y="780" width="1" height="3"/>
</g>
<text x="1266" y="12.3" font-size="9.6" fill="#000" textLength="23" lengthAdjust="spacingAndGlyphs" xml:space="preserve">49.65</text>
<text x="1266" y="46.3" font-size="9.6" fill="#000" textLength="23" lengthAdjust="spacingAndGlyphs" xml:space="preserve">49.25</text>
<text x="1266" y="81.3" font-size="9.6" fill="#000" textLength="23" lengthAdjust="spacingAndGlyphs" xml:space="preserve">48.85</text>
<text x="1266" y="115.3" font-size="9.6" fill="#000" textLength="23" lengthAdjust="spacingAndGlyphs" xml:space="preserve">48.45</text>
<text x="1266" y="150.3" font-size="9.6" fill="#000" textLength="23" lengthAdjust="spacingAndGlyphs" xml:space="preserve">48.05</text>
<text x="1266" y="185.3" font-size="9.6" fill="#000" textLength="23" lengthAdjust="spacingAndGlyphs" xml:space="preserve">47.65</text>
<text x="1266" y="219.3" font-size="9.6" fill="#000" textLength="23" lengthAdjust="spacingAndGlyphs" xml:space="preserve">47.25</text>
<text x="1266" y="254.3" font-size="9.6" fill="#000" textLength="23" lengthAdjust="spacingAndGlyphs" xml:space="preserve">46.85</text>
<text x="1266" y="288.3" font-size="9.6" fill="#000" textLength="23" lengthAdjust="spacingAndGlyphs" xml:space="preserve">46.45</text>
<text x="1266" y="323.3" font-size="9.6" fill="#000" textLength="23" lengthAdjust="spacingAndGlyphs" xml:space="preserve">46.05</text>
<text x="1266" y="357.3" font-size="9.6" fill="#000" textLength="23" lengthAdjust="spacingAndGlyphs" xml:space="preserve">45.65</text>
<text x="1266" y="392.3" font-size="9.6" fill="#000" textLength="23" lengthAdjust="spacingAndGlyphs" xml:space="preserve">45.25</text>
<text x="1266" y="426.3" font-size="9.6" fill="#000" textLength="23" lengthAdjust="spacingAndGlyphs" xml:space="preserve">44.85</text>
<text x="1266" y="461.3" font-size="9.6" fill="#000" textLength="23" lengthAdjust="spacingAndGlyphs" xml:space="preserve">44.45</text>
<text x="1266" y="496.3" font-size="9.6" fill="#000" textLength="23" lengthAdjust="spacingAndGlyphs" xml:space="preserve">44.05</text>
<text x="1266" y="530.3" font-size="9.6" fill="#000" textLength="23" lengthAdjust="spacingAndGlyphs" xml:space="preserve">43.65</text>
<text x="1266" y="565.3" font-size="9.6" fill="#000" textLength="23" lengthAdjust="spacingAndGlyphs" xml:space="preserve">43.25</text>
<text x="1266" y="599.3" font-size="9.6" fill="#000" textLength="23" lengthAdjust="spacingAndGlyphs" xml:space="preserve">42.85</text>
<rect x="1262" y="526" width="31" height="11" fill="#000" shape-rendering="crispEdges"/>
<text x="1266" y="535.3" font-size="9.6" fill="#fff" textLength="23" lengthAdjust="spacingAndGlyphs" xml:space="preserve">43.59</text>
<text x="1264.5" y="613.3" font-size="9.6" fill="#000" textLength="22.5" lengthAdjust="spacingAndGlyphs" xml:space="preserve">1.222</text>
<text x="1264.5" y="652.3" font-size="9.6" fill="#000" textLength="17.5" lengthAdjust="spacingAndGlyphs" xml:space="preserve">0.00</text>
<text x="1264.5" y="683.3" font-size="9.6" fill="#000" textLength="26" lengthAdjust="spacingAndGlyphs" xml:space="preserve">-1.029</text>
<text x="1264.5" y="699.3" font-size="9.6" fill="#000" textLength="15" lengthAdjust="spacingAndGlyphs" xml:space="preserve">100</text>
<rect x="1262" y="711" width="12" height="11" fill="#696969" shape-rendering="crispEdges"/>
<rect x="1262" y="747" width="12" height="11" fill="#696969" shape-rendering="crispEdges"/>
<text x="1263.7" y="720.3" font-size="9.6" fill="#fff" textLength="9.5" lengthAdjust="spacingAndGlyphs" xml:space="preserve">70</text>
<text x="1263.7" y="756.3" font-size="9.6" fill="#fff" textLength="9.5" lengthAdjust="spacingAndGlyphs" xml:space="preserve">30</text>
<text x="1264.5" y="776.3" font-size="9.6" fill="#000" textLength="5" lengthAdjust="spacingAndGlyphs" xml:space="preserve">0</text>
<text x="7" y="14.3" font-size="9.6" fill="#000" textLength="140.5" lengthAdjust="spacingAndGlyphs" xml:space="preserve">WTI,H4  43.91 44.00 43.34 43.59</text>
<text x="7" y="615.3" font-size="9.6" fill="#000" textLength="124" lengthAdjust="spacingAndGlyphs" xml:space="preserve">MACD(12,26,9) -0.440 -0.498</text>
<text x="7" y="701.3" font-size="9.6" fill="#000" textLength="68" lengthAdjust="spacingAndGlyphs" xml:space="preserve">RSI(14) 38.2857</text>
<text x="2.4" y="792.3" font-size="9.6" fill="#000" textLength="51.8" lengthAdjust="spacingAndGlyphs" xml:space="preserve">12 Aug 2016</text>
<text x="66.4" y="792.3" font-size="9.6" fill="#000" textLength="54.3" lengthAdjust="spacingAndGlyphs" xml:space="preserve">15 Aug 13:00</text>
<text x="130.4" y="792.3" font-size="9.6" fill="#000" textLength="54.3" lengthAdjust="spacingAndGlyphs" xml:space="preserve">16 Aug 21:00</text>
<text x="194.4" y="792.3" font-size="9.6" fill="#000" textLength="54.3" lengthAdjust="spacingAndGlyphs" xml:space="preserve">18 Aug 05:00</text>
<text x="258.4" y="792.3" font-size="9.6" fill="#000" textLength="54.3" lengthAdjust="spacingAndGlyphs" xml:space="preserve">19 Aug 13:00</text>
<text x="322.4" y="792.3" font-size="9.6" fill="#000" textLength="54.3" lengthAdjust="spacingAndGlyphs" xml:space="preserve">22 Aug 21:00</text>
<text x="386.4" y="792.3" font-size="9.6" fill="#000" textLength="54.3" lengthAdjust="spacingAndGlyphs" xml:space="preserve">24 Aug 05:00</text>
<text x="450.4" y="792.3" font-size="9.6" fill="#000" textLength="54.3" lengthAdjust="spacingAndGlyphs" xml:space="preserve">25 Aug 13:00</text>
<text x="514.4" y="792.3" font-size="9.6" fill="#000" textLength="54.3" lengthAdjust="spacingAndGlyphs" xml:space="preserve">26 Aug 21:00</text>
<text x="578.4" y="792.3" font-size="9.6" fill="#000" textLength="54.3" lengthAdjust="spacingAndGlyphs" xml:space="preserve">30 Aug 05:00</text>
<text x="642.4" y="792.3" font-size="9.6" fill="#000" textLength="54.3" lengthAdjust="spacingAndGlyphs" xml:space="preserve">31 Aug 13:00</text>
<text x="706.4" y="792.3" font-size="9.6" fill="#000" textLength="49.7" lengthAdjust="spacingAndGlyphs" xml:space="preserve">1 Sep 21:00</text>
<text x="770.4" y="792.3" font-size="9.6" fill="#000" textLength="49.7" lengthAdjust="spacingAndGlyphs" xml:space="preserve">5 Sep 05:00</text>
<text x="834.4" y="792.3" font-size="9.6" fill="#000" textLength="49.7" lengthAdjust="spacingAndGlyphs" xml:space="preserve">6 Sep 17:00</text>
<text x="898.4" y="792.3" font-size="9.6" fill="#000" textLength="49.7" lengthAdjust="spacingAndGlyphs" xml:space="preserve">8 Sep 01:00</text>
<text x="962.4" y="792.3" font-size="9.6" fill="#000" textLength="49.7" lengthAdjust="spacingAndGlyphs" xml:space="preserve">9 Sep 09:00</text>
<text x="1026.4" y="792.3" font-size="9.6" fill="#000" textLength="54.9" lengthAdjust="spacingAndGlyphs" xml:space="preserve">12 Sep 17:00</text>
<text x="1090.4" y="792.3" font-size="9.6" fill="#000" textLength="54.9" lengthAdjust="spacingAndGlyphs" xml:space="preserve">14 Sep 01:00</text>
<text x="1154.4" y="792.3" font-size="9.6" fill="#000" textLength="54.9" lengthAdjust="spacingAndGlyphs" xml:space="preserve">15 Sep 09:00</text>
</svg></body></html>
